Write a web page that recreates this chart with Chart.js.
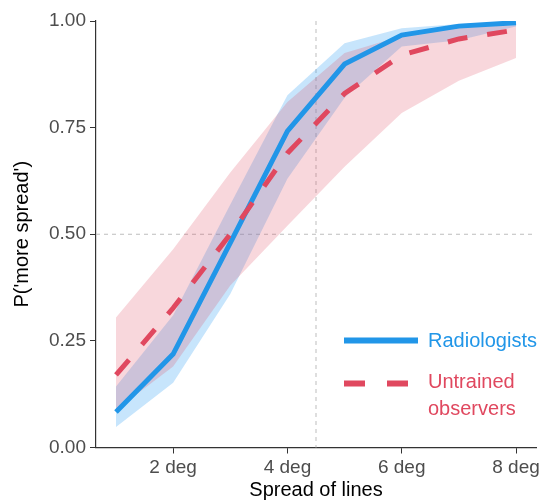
<!DOCTYPE html>
<html>
<head>
<meta charset="utf-8">
<title>Spread of lines</title>
<script src="https://cdn.jsdelivr.net/npm/chart.js@4/dist/chart.umd.min.js"></script>
<style>
  html, body { margin: 0; padding: 0; background: #fff; }
  #wrap { width: 544px; height: 501px; }
</style>
</head>
<body>
<div id="wrap"><canvas id="chart" width="544" height="501"></canvas></div>
<script>
/* data */
const spread      = [1, 2, 3, 4, 5, 6, 7, 8];
const radiologist = [0.083, 0.219, 0.48, 0.742, 0.899, 0.967, 0.988, 0.996];
const radioLow    = [0.048, 0.152, 0.36, 0.63, 0.82, 0.94, 0.955, 0.987];
const radioHigh   = [0.143, 0.31, 0.57, 0.826, 0.948, 0.983, 0.993, 0.998];
const untrained   = [0.17, 0.327, 0.50, 0.69, 0.83, 0.92, 0.958, 0.979];
const untrLow     = [0.088, 0.19, 0.38, 0.52, 0.658, 0.784, 0.86, 0.913];
const untrHigh    = [0.305, 0.465, 0.645, 0.81, 0.925, 0.965, 0.985, 0.99];

const xTicks = [2, 4, 6, 8];
const yTicks = [0, 0.25, 0.5, 0.75, 1];
const refX = 4.5;
const refY = 0.5;

const legendItems = [
  { lines: ['Radiologists'], color: '#2196E8', dash: [] },
  { lines: ['Untrained', 'observers'], color: '#E0485F', dash: [21, 22] }
];

const BLUE = '#2196E8';
const PINK = '#E0485F';
const FONT = '"Liberation Sans", Arial, sans-serif';

const pts = arr => arr.map((y, i) => ({ x: spread[i], y }));

// dashed reference lines behind the data
const refLines = {
  id: 'refLines',
  beforeDatasetsDraw(chart) {
    const { ctx, chartArea: a, scales: { x, y } } = chart;
    ctx.save();
    ctx.strokeStyle = '#bdbdbd';
    ctx.lineWidth = 1;
    ctx.setLineDash([4, 4]);
    const px = x.getPixelForValue(refX);
    const py = y.getPixelForValue(refY);
    ctx.beginPath();
    ctx.moveTo(px, a.top); ctx.lineTo(px, a.bottom);
    ctx.moveTo(a.left, py); ctx.lineTo(a.right, py);
    ctx.stroke();
    ctx.restore();
  }
};

// legend inside the plot, bottom right
const innerLegend = {
  id: 'innerLegend',
  afterDraw(chart) {
    const { ctx, chartArea: a } = chart;
    const x0 = a.right - 192, x1 = a.right - 118, tx = a.right - 108;
    let y = a.bottom - 107;
    ctx.save();
    ctx.font = '20px ' + FONT;
    ctx.textBaseline = 'middle';
    legendItems.forEach(it => {
      ctx.strokeStyle = it.color;
      ctx.lineWidth = 6;
      ctx.setLineDash(it.dash);
      ctx.beginPath();
      ctx.moveTo(x0, y); ctx.lineTo(x1, y);
      ctx.stroke();
      ctx.fillStyle = it.color;
      it.lines.forEach((t, k) => ctx.fillText(t, tx, y + 1 + k * 27 - (it.lines.length > 1 ? 2 : 0)));
      y += 43;
    });
    ctx.restore();
  }
};

new Chart(document.getElementById('chart'), {
  type: 'line',
  data: {
    datasets: [
      { data: pts(untrained), borderColor: PINK, borderWidth: 5, borderDash: [20, 20], pointRadius: 0, fill: false },
      { data: pts(radiologist), borderColor: BLUE, borderWidth: 5, pointRadius: 0, fill: false },
      { data: pts(untrLow), borderWidth: 0, pointRadius: 0, fill: false },
      { data: pts(untrHigh), borderWidth: 0, pointRadius: 0, fill: 2, backgroundColor: 'rgba(225,75,95,0.22)' },
      { data: pts(radioLow), borderWidth: 0, pointRadius: 0, fill: false },
      { data: pts(radioHigh), borderWidth: 0, pointRadius: 0, fill: 4, backgroundColor: 'rgba(33,150,243,0.25)' }
    ]
  },
  options: {
    responsive: false,
    animation: false,
    layout: { padding: { top: 21, right: 8, left: 0, bottom: 0 } },
    plugins: { legend: { display: false }, tooltip: { enabled: false } },
    elements: { line: { tension: 0 } },
    scales: {
      x: {
        type: 'linear', min: 0.65, max: 8.35,
        afterBuildTicks: s => { s.ticks = xTicks.map(v => ({ value: v })); },
        afterFit: s => { s.height = 53.5; },
        grid: { drawOnChartArea: false, drawTicks: true, tickLength: 6, color: '#333' },
        border: { color: '#333', width: 1.2 },
        ticks: { color: '#4d4d4d', font: { size: 19, family: FONT }, padding: 3, maxRotation: 0,
                 callback: v => v + ' deg' },
        title: { display: true, text: 'Spread of lines', color: '#000',
                 font: { size: 20, family: FONT, lineHeight: 1.1 }, padding: { top: 0, bottom: 0 } }
      },
      y: {
        min: 0, max: 1,
        afterBuildTicks: s => { s.ticks = yTicks.map(v => ({ value: v })); },
        afterFit: s => { s.width = 96; },
        grid: { drawOnChartArea: false, drawTicks: true, tickLength: 6, color: '#333' },
        border: { color: '#333', width: 1.2 },
        ticks: { color: '#4d4d4d', font: { size: 19, family: FONT }, padding: 4,
                 callback: v => v.toFixed(2) },
        title: { display: true, text: "P('more spread')", color: '#000',
                 font: { size: 20, family: FONT, lineHeight: 1.2 }, padding: { top: 10, bottom: 4 } }
      }
    }
  },
  plugins: [refLines, innerLegend]
});
</script>
</body>
</html>
